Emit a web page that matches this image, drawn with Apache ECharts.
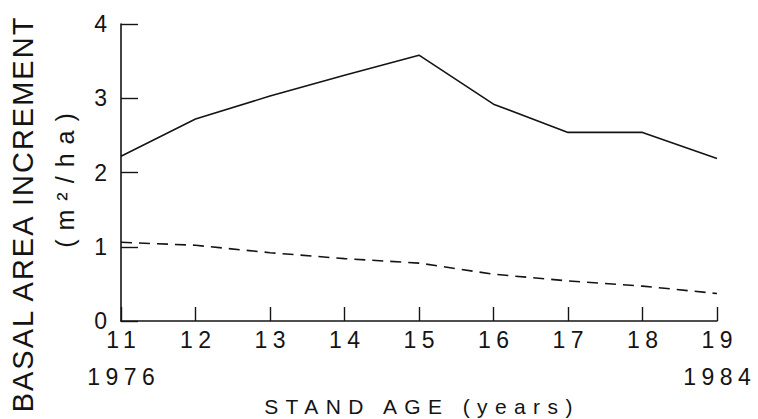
<!DOCTYPE html>
<html>
<head>
<meta charset="utf-8">
<script src="https://cdn.jsdelivr.net/npm/echarts@6/dist/echarts.min.js"></script>
<style>
  html, body { margin: 0; padding: 0; background: #fff; }
  #chart { width: 758px; height: 419px; }
  #chart text[style*="lsYT"] { letter-spacing: 2px; }
  #chart text[style*="lsYU"] { letter-spacing: 9px; }
  #chart text[style*="lsXT"] { letter-spacing: 7.4px; }
  #chart text[style*="lsXL"] { letter-spacing: 5.5px; }
</style>
</head>
<body>
<div id="chart"></div>
<script>
// ---- data ----
var standAge = [11, 12, 13, 14, 15, 16, 17, 18, 19];
var solidSeries = [2.22, 2.72, 3.03, 3.31, 3.58, 2.92, 2.54, 2.54, 2.19];
var dashedSeries = [1.06, 1.02, 0.92, 0.84, 0.78, 0.63, 0.54, 0.47, 0.37];
var yearLabels = { 11: '1976', 19: '1984' };
var yTitle = 'BASAL AREA INCREMENT';
var yUnit = '(m\u00B2/ha)';
var xTitle = 'STAND AGE (years)';

function pairs(xs, ys) {
  return xs.map(function (x, i) { return [x, ys[i]]; });
}

var INK = '#141414';
var FONT = '"Liberation Sans", Arial, Helvetica, sans-serif';

var chart = echarts.init(document.getElementById('chart'), null, { renderer: 'svg' });
chart.setOption({
  animation: false,
  backgroundColor: '#ffffff',
  grid: { left: 121, right: 41, top: 24, bottom: 98, containLabel: false, outerBoundsMode: 'none' },
  xAxis: {
    type: 'value', min: 11, max: 19, interval: 1,
    axisLine: { show: true, onZero: false, lineStyle: { color: INK, width: 1.6 } },
    axisTick: { show: true, inside: true, length: 14, lineStyle: { color: INK, width: 1.4 } },
    splitLine: { show: false },
    axisLabel: {
      color: INK, fontSize: 23, fontFamily: FONT + ', lsXL', margin: 0, lineHeight: 37,
      padding: [0, 0, 0, 5.5],
      formatter: function (v) { return yearLabels[v] ? v + '\n' + yearLabels[v] : String(v); }
    }
  },
  yAxis: {
    type: 'value', min: 0, max: 4, interval: 1,
    axisLine: { show: true, onZero: false, lineStyle: { color: INK, width: 1.6 } },
    axisTick: { show: true, inside: true, length: 17, lineStyle: { color: INK, width: 1.4 } },
    splitLine: { show: false },
    axisLabel: { color: INK, fontSize: 23, fontFamily: FONT, margin: 14 }
  },
  graphic: [
    {
      type: 'text', x: 23, y: 214, rotation: Math.PI / 2,
      style: { text: yTitle, fill: INK, fontSize: 29, fontFamily: FONT + ', lsYT', align: 'center', verticalAlign: 'middle' }
    },
    {
      type: 'text', x: 65, y: 176, rotation: Math.PI / 2,
      style: { text: yUnit, fill: INK, fontSize: 25, fontFamily: FONT + ', lsYU', align: 'center', verticalAlign: 'middle' }
    },
    {
      type: 'text', x: 422, y: 406,
      style: { text: xTitle, fill: INK, fontSize: 21, fontFamily: FONT + ', lsXT', align: 'center', verticalAlign: 'middle' }
    }
  ],
  series: [
    {
      type: 'line', data: pairs(standAge, solidSeries), symbol: 'none',
      lineStyle: { color: INK, width: 1.6, type: 'solid' }
    },
    {
      type: 'line', data: pairs(standAge, dashedSeries), symbol: 'none',
      lineStyle: { color: INK, width: 1.6, type: [11, 7] }
    }
  ]
});
</script>
</body>
</html>
